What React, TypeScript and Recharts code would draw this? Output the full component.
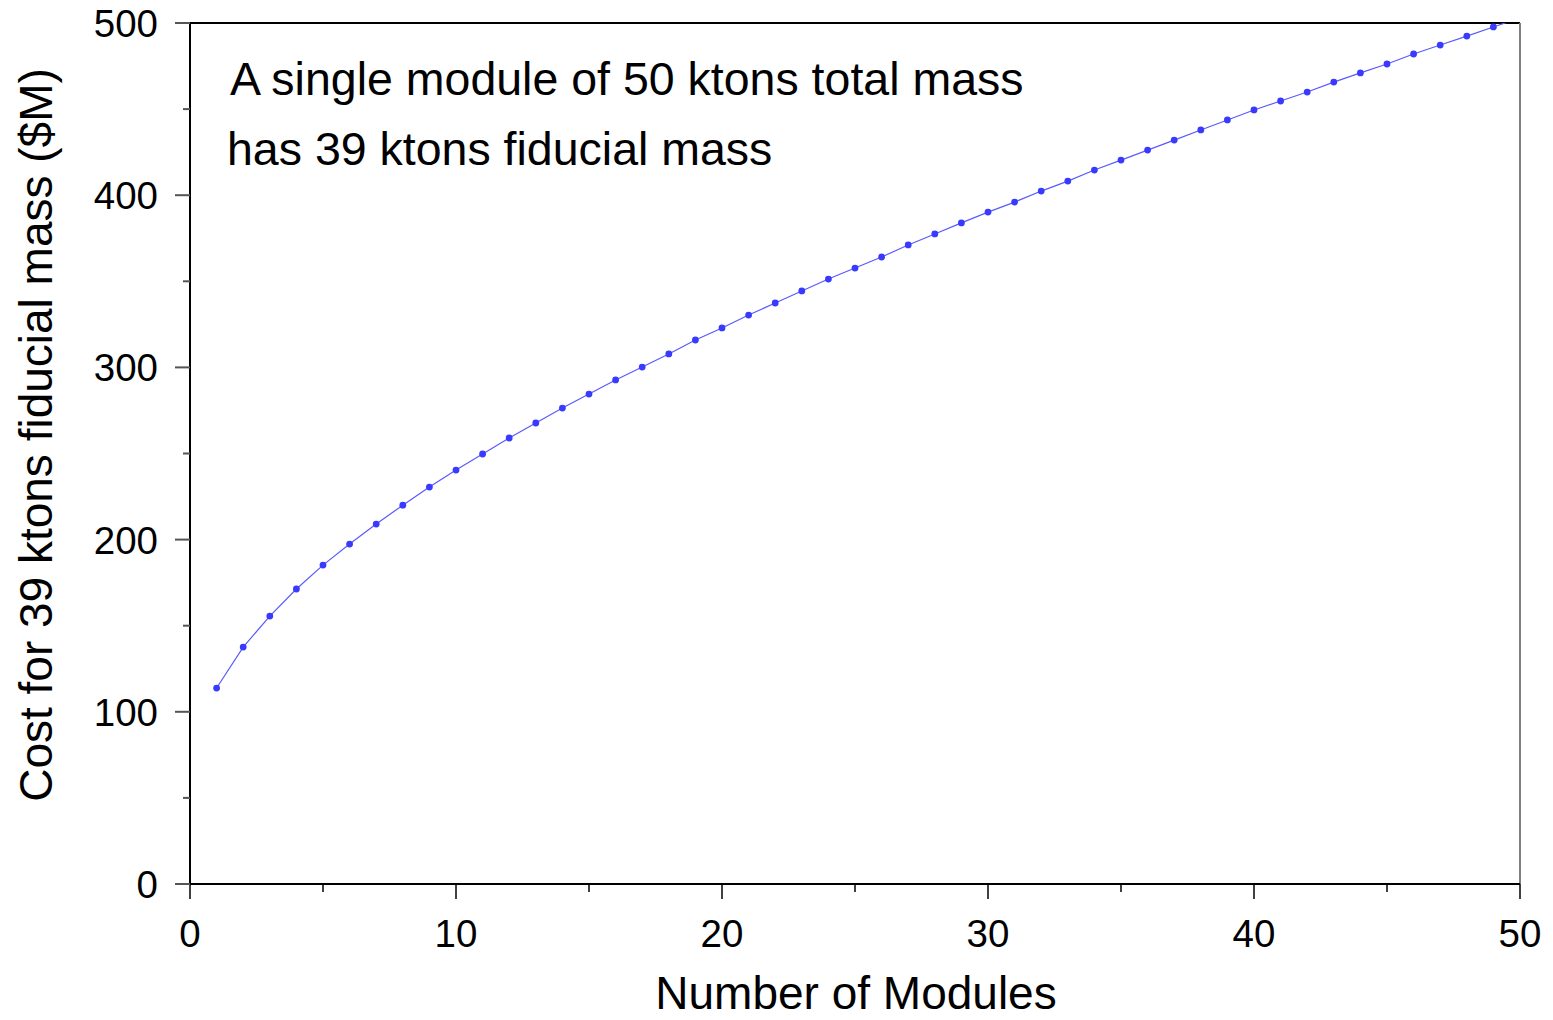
import { LineChart, Line, XAxis, YAxis, ReferenceLine } from 'recharts';

// number of modules
const modules = [
  1, 2, 3, 4, 5, 6, 7, 8, 9, 10, 11, 12, 13, 14, 15, 16, 17, 18, 19, 20, 21, 22,
  23, 24, 25, 26, 27, 28, 29, 30, 31, 32, 33, 34, 35, 36, 37, 38, 39, 40, 41,
  42, 43, 44, 45, 46, 47, 48, 49, 50,
];

// cost ($M) for 39 ktons fiducial mass
const cost = [
  113.8, 137.6, 155.6, 171.3, 185.2, 197.4, 209.0, 220.0, 230.5, 240.4, 249.7,
  259.0, 267.7, 276.4, 284.5, 292.7, 300.2, 307.8, 315.9, 322.9, 330.4, 337.4,
  344.4, 351.3, 357.7, 364.1, 371.1, 377.5, 383.9, 390.2, 396.0, 402.4, 408.2,
  414.6, 420.4, 426.2, 432.0, 437.9, 443.7, 449.5, 454.7, 459.9, 465.7, 471.0,
  476.2, 482.0, 487.2, 492.4, 497.7, 503.0,
];

const xTicks = [0, 5, 10, 15, 20, 25, 30, 35, 40, 45, 50];
const yTicks = [0, 50, 100, 150, 200, 250, 300, 350, 400, 450, 500];

const xTitle = 'Number of Modules';
const yTitle = 'Cost for 39 ktons fiducial mass ($M)';
const note1 = 'A single module of 50 ktons total mass';
const note2 = 'has 39 ktons fiducial mass';

const data = modules.map((m, i) => ({ modules: m, cost: cost[i] }));

const FONT = '"Liberation Sans", Arial, sans-serif';

const YTick = (props: any) => {
  const { x, y, payload } = props;
  const major = payload.value % 100 === 0;
  return (
    <g>
      <line x1={x - (major ? 15 : 7)} x2={x} y1={y} y2={y} stroke='#555' strokeWidth={2} />
      {major && (
        <text
          x={x - 32}
          y={y}
          dy={14}
          textAnchor='end'
          fontSize={38.5}
          fontFamily={FONT}
          fill='#000'
        >
          {payload.value}
        </text>
      )}
    </g>
  );
};

const XTick = (props: any) => {
  const { x, y, payload } = props;
  const major = payload.value % 10 === 0;
  return (
    <g>
      <line x1={x} x2={x} y1={y} y2={y + (major ? 15 : 8)} stroke='#000' strokeWidth={1.5} />
      {major && (
        <text
          x={x}
          y={y + 63}
          textAnchor='middle'
          fontSize={38.5}
          fontFamily={FONT}
          fill='#000'
        >
          {payload.value}
        </text>
      )}
    </g>
  );
};

const App = () => {
  return (
    <div style={{ position: 'absolute', left: 0, top: 0, background: '#fff' }}>
      <LineChart
        width={1553}
        height={1020}
        data={data}
        margin={{ top: 23, right: 33, left: 0, bottom: 0 }}
      >
        <XAxis
          dataKey='modules'
          type='number'
          domain={[0, 50]}
          ticks={xTicks}
          allowDataOverflow
          height={136}
          tickSize={0}
          tickMargin={0}
          tickLine={false}
          tick={<XTick />}
          axisLine={{ stroke: '#000', strokeWidth: 2 }}
        />
        <YAxis
          type='number'
          domain={[0, 500]}
          ticks={yTicks}
          allowDataOverflow
          width={190}
          tickSize={0}
          tickMargin={0}
          tickLine={false}
          tick={<YTick />}
          axisLine={{ stroke: '#000', strokeWidth: 2 }}
        />
        <ReferenceLine y={500} stroke='#000' strokeWidth={2} />
        <ReferenceLine x={50} stroke='#808080' strokeWidth={2} />
        <Line
          type='linear'
          dataKey='cost'
          stroke='#5a5aff'
          strokeWidth={1.2}
          dot={{ r: 3.4, fill: '#3a3aff', stroke: 'none' }}
          isAnimationActive={false}
        />
        <text
          x={856}
          y={1009}
          textAnchor='middle'
          fontSize={46}
          fontFamily={FONT}
          fill='#000'
        >
          {xTitle}
        </text>
        <text
          x={52}
          y={435}
          transform='rotate(-90 52 435)'
          textAnchor='middle'
          fontSize={46}
          fontFamily={FONT}
          fill='#000'
        >
          {yTitle}
        </text>
        <text x={230} y={95} fontSize={46.5} fontFamily={FONT} fill='#000'>
          {note1}
        </text>
        <text x={227} y={165} fontSize={46.5} fontFamily={FONT} fill='#000'>
          {note2}
        </text>
      </LineChart>
    </div>
  );
};

export default App;
